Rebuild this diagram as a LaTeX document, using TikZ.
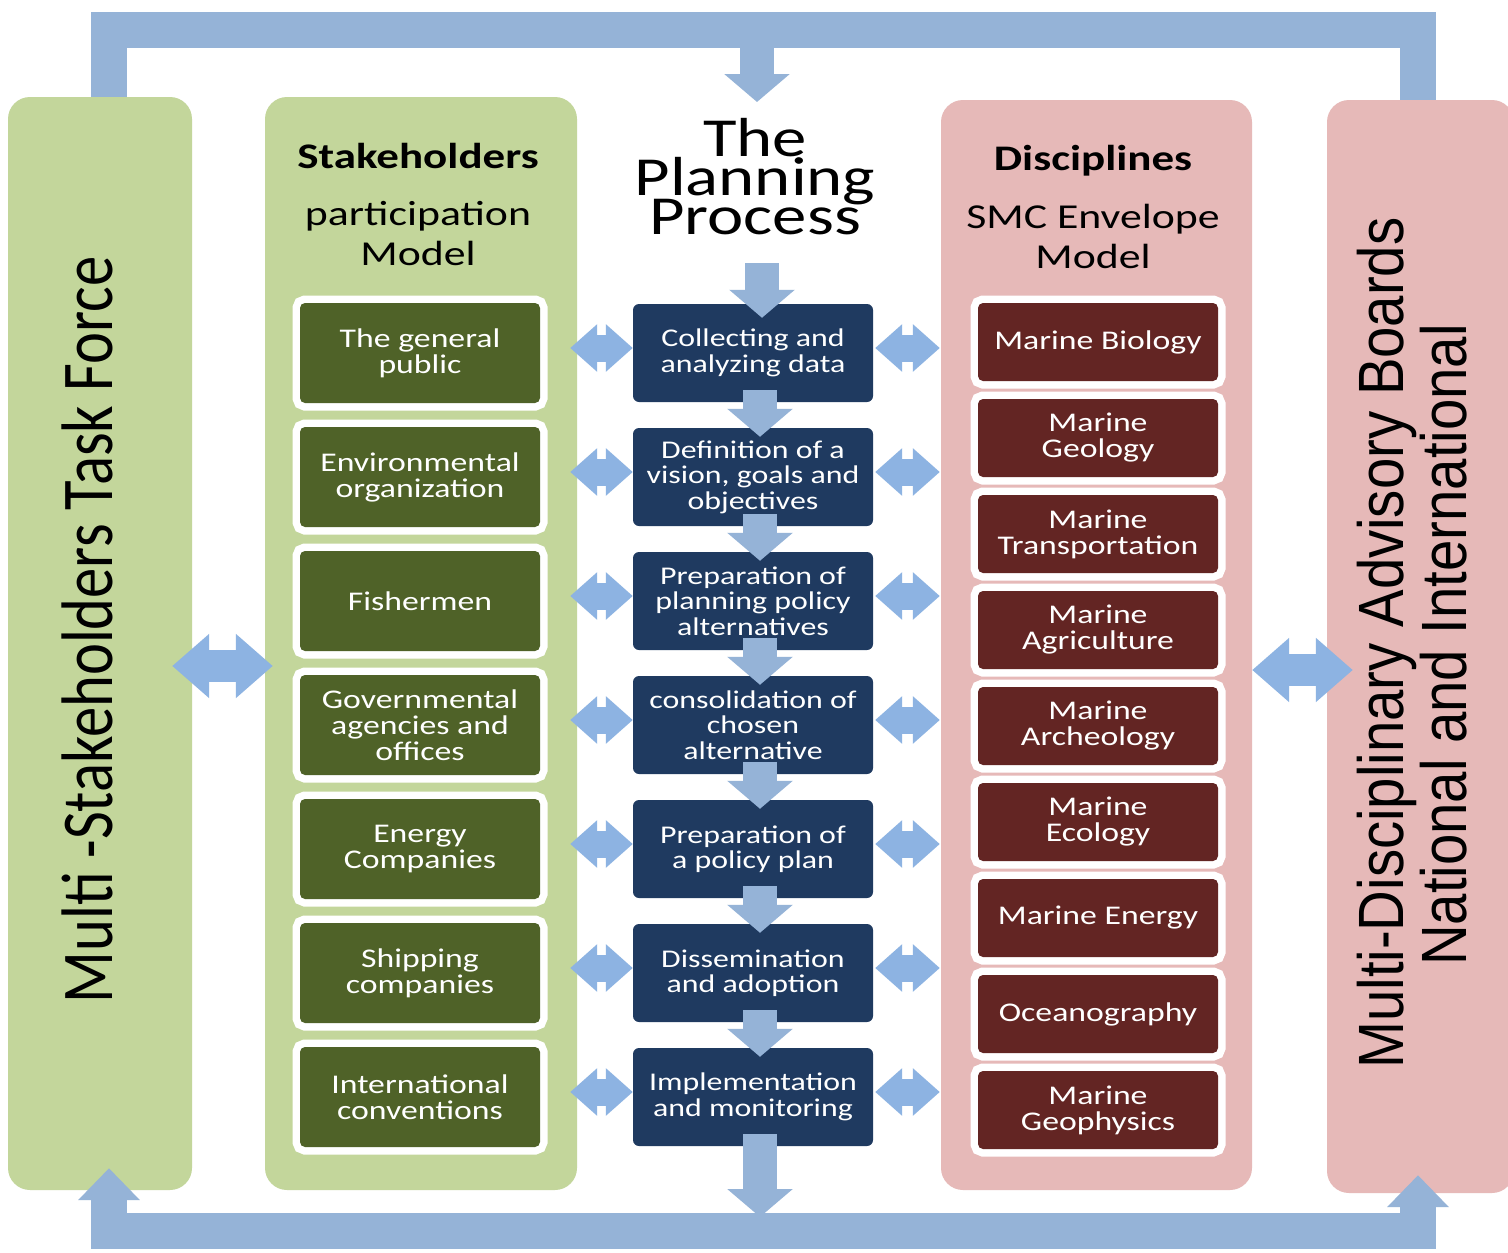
\documentclass[tikz,border=0pt]{standalone}
\usepackage{fontspec}
\setmainfont{Carlito}
\newfontfamily\cw[FakeStretch=1.25]{Carlito}
\newfontfamily\lcond[FakeStretch=0.83]{Carlito}
\newfontfamily\rcond[FakeStretch=0.88]{Liberation Sans}
\usetikzlibrary{calc,arrows.meta}
\definecolor{colgreen}{HTML}{C3D69B}
\definecolor{colpink}{HTML}{E6B9B8}
\definecolor{olive}{HTML}{4F6228}
\definecolor{wine}{HTML}{632523}
\definecolor{navy}{HTML}{1F3A60}
\definecolor{barblue}{HTML}{95B3D7}
\definecolor{arrblue}{HTML}{8DB3E2}
\newcommand\myboxfont{\cw\fontsize{27}{26}\selectfont\lineskiplimit=-100pt\relax}
\newcommand\myprocfont{\cw\fontsize{25.5}{25.5}\selectfont\lineskiplimit=-100pt\relax}
\newcommand\myheadfont{\cw\fontsize{35}{40}\selectfont\lineskiplimit=-100pt\relax}
\newcommand\mytitlefont{\cw\fontsize{55}{39}\selectfont\lineskiplimit=-100pt\relax}
\begin{document}
\begin{tikzpicture}[x=1pt,y=-1pt,
  bigbox/.style={rounded corners=22, inner sep=0, draw=none},
  stk/.style={fill=olive, rounded corners=5, minimum width=240, minimum height=100,
    inner sep=0, text=white, align=center, font=\myboxfont,
    preaction={draw=white, fill=white, line width=15}},
  dis/.style={stk, fill=wine, minimum height=78},
  proc/.style={fill=navy, rounded corners=6, minimum width=240, minimum height=98,
    inner sep=0, text=white, align=center, font=\myprocfont},
  bar/.style={draw=barblue, line width=36},
  flow/.style={draw=barblue, line width=34, -{Triangle[length=28pt,width=64pt]}},
  dbl/.style={draw=arrblue, line width=27,
    {Triangle[length=27pt,width=46pt]}-{Triangle[length=27pt,width=46pt]}},
  bigdbl/.style={draw=arrblue, line width=32,
    {Triangle[length=37pt,width=62pt]}-{Triangle[length=37pt,width=62pt]}},
  headtxt/.style={inner sep=0, align=center, font=\myheadfont}
]
\useasboundingbox (0,0) rectangle (1508,1253);
\fill[white] (0,0) rectangle (1508,1253);

% big columns
\node[bigbox, fill=colgreen, minimum width=184, minimum height=1093] (L) at (100,643.5) {};
\node[bigbox, fill=colgreen, minimum width=312, minimum height=1093] (S) at (421,643.5) {};
\node[bigbox, fill=colpink, minimum width=311, minimum height=1090] (D) at (1096.5,645) {};
\node[bigbox, fill=colpink, minimum width=187, minimum height=1093] (R) at (1420.5,646.5) {};

% rotated side texts
\node[rotate=90, anchor=base, inner sep=0, font=\lcond\fontsize{73}{80}\selectfont] (ltxt) at (112,630) {Multi -Stakeholders Task Force};
\node[rotate=90, anchor=base, inner sep=0, font=\rcond\fontsize{64}{70}\selectfont] (rtxt1) at (1403,643) {Multi-Disciplinary Advisory Boards};
\node[rotate=90, anchor=base, inner sep=0, font=\rcond\fontsize{64}{70}\selectfont] (rtxt2) at (1466,645) {National and International};

% headers
\node[inner sep=0, anchor=base, font=\cw\bfseries\fontsize{36}{40}\selectfont] (sh) at (418,168) {Stakeholders};
\node[headtxt] (sm) at (418,234) {participation\\Model};
\node[inner sep=0, anchor=base, font=\cw\bfseries\fontsize{36}{40}\selectfont] (dh) at (1093,170) {Disciplines};
\node[headtxt] (dm) at (1093,236) {SMC Envelope\\Model};
\node[inner sep=0, align=center, font=\mytitlefont] (title) at (755,177) {The\\Planning\\Process};

% stakeholder boxes
\foreach \t [count=\i] in {{The general\\public},{Environmental\\organization},{Fishermen},
  {Governmental\\agencies and\\offices},{Energy\\Companies},{Shipping\\companies},
  {International\\conventions}}
  \node[stk] (s\i) at (420,{353+124*(\i-1)}) {\t};

% process boxes
\foreach \t [count=\i] in {{Collecting and\\analyzing data},{Definition of a\\vision, goals and\\objectives},
  {Preparation of\\planning policy\\alternatives},{consolidation of\\chosen\\alternative},
  {Preparation of\\a policy plan},{Dissemination\\and adoption},{Implementation\\and monitoring}}
  \node[proc] (p\i) at (753,{353+124*(\i-1)}) {\t};

% discipline boxes
\foreach \t [count=\i] in {{Marine Biology},{Marine\\Geology},{Marine\\Transportation},
  {Marine\\Agriculture},{Marine\\Archeology},{Marine\\Ecology},{Marine Energy},
  {Oceanography},{Marine\\Geophysics}}
  \node[dis] (d\i) at (1098,{342+96*(\i-1)}) {\t};

% feedback bars
\coordinate (tl) at (109,30);
\coordinate (tr) at (1418,30);
\coordinate (tc) at (757,30);
\coordinate (ttip) at (757,102);
\draw[bar] (tl |- L.north) -- (tl) -- (tr) -- (tr |- R.north);
\draw[flow] (tc) -- (ttip);

\coordinate (bl) at (109,1231);
\coordinate (br) at (1418,1231);
\coordinate (bctip) at (760,1217);
\draw[bar, {Triangle[length=32pt,width=60pt]}-{Triangle[length=32pt,width=60pt]}]
  ($(bl |- L.south)+(0,-22)$) -- (bl) -- (br) -- ($(br |- R.south)+(0,-18)$);

% process flow
\coordinate (t2) at (762,263);
\draw[flow] (t2) -- ($(p1.north)+(9,14)$);
\foreach \i [evaluate=\i as \j using int(\i+1)] in {1,...,6}
  \draw[flow] ($(p\i.south)+(7,-12)$) -- ($(p\j.north)+(7,9)$);
\draw[flow] ($(p7.south)+(7,-12)$) -- (bctip);

% two-way links
\foreach \i in {1,...,7}{
  \draw[dbl] ($(s\i.east)+(30,-5)$) -- ($(p\i.west)+(0,-5)$);
  \draw[dbl] ($(p\i.east)+(2,-5)$) -- ($(p\i.east -| D.west)+(-1,-5)$);
}
\coordinate (bly) at (0,666);
\coordinate (bry) at (0,670);
\draw[bigdbl] ($(L.east |- bly)+(-20,0)$) -- ($(S.west |- bly)+(8,0)$);
\draw[bigdbl] (D.east |- bry) -- ($(R.west |- bry)+(26,0)$);
\end{tikzpicture}
\end{document}
